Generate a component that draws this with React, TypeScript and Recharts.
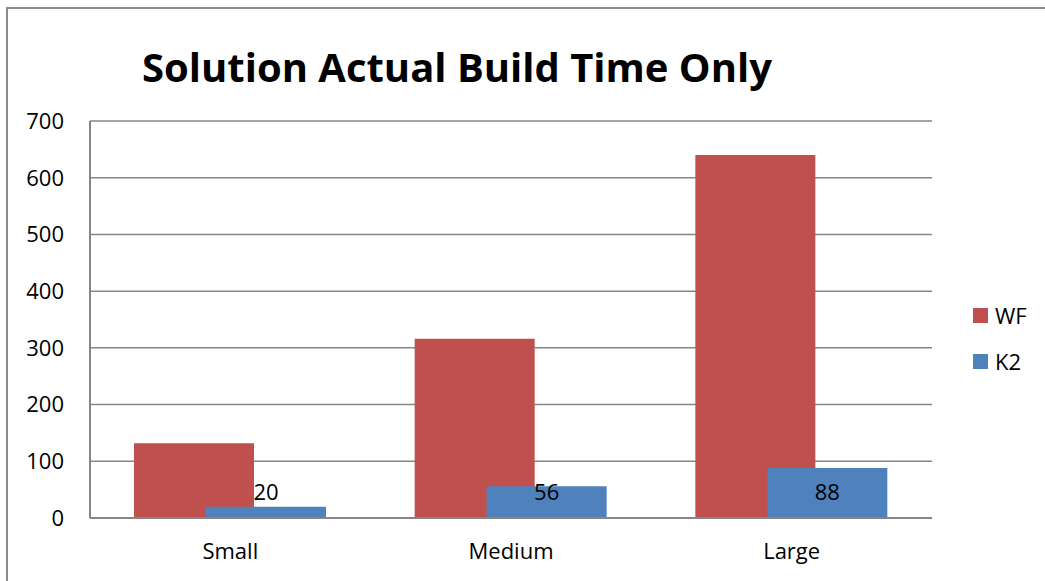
import { BarChart, Bar, XAxis, YAxis, CartesianGrid, Legend, LabelList } from "recharts";

const categories = ["Small", "Medium", "Large"];
const wfValues = [132, 316, 640];
const k2Values = [20, 56, 88];
const yTicks = [0, 100, 200, 300, 400, 500, 600, 700];

const data = categories.map((name, i) => ({ name, WF: wfValues[i], K2: k2Values[i] }));

const FONT = "'Open Sans', sans-serif";
const WF_COLOR = "#C0504D";
const K2_COLOR = "#4F81BD";
const GRID = "#868686";

// labels sit at a fixed distance above the bar base, like the original
const BaseLabel = (props: any) => {
  const { x, y, width, height, value } = props;
  const base = y + height;
  return (
    <text
      x={x + width / 2}
      y={base - 27}
      textAnchor="middle"
      dominantBaseline="central"
      fontSize={22}
      fontFamily={FONT}
      fill="#000"
    >
      {value}
    </text>
  );
};

const renderLegend = () => (
  <div style={{ fontFamily: FONT, fontSize: 22, color: "#000" }}>
    {[
      { label: "WF", color: WF_COLOR },
      { label: "K2", color: K2_COLOR },
    ].map((item, i) => (
      <div
        key={item.label}
        style={{ display: "flex", alignItems: "center", height: 30, marginBottom: i === 0 ? 16 : 0 }}
      >
        <span style={{ width: 15, height: 15, background: item.color, marginRight: 7 }} />
        <span>{item.label}</span>
      </div>
    ))}
  </div>
);

export default function App() {
  return (
    <div
      style={{
        position: "fixed",
        left: 0,
        top: 0,
        width: 1045,
        height: 581,
        overflow: "hidden",
        background: "#fff",
      }}
    >
      <div
        style={{
          position: "absolute",
          left: 6,
          top: 7,
          width: 1080,
          height: 620,
          border: "2px solid #8c8c8c",
        }}
      />
      <div style={{ position: "absolute", left: 0, top: 0 }}>
        <BarChart
          width={1045}
          height={581}
          data={data}
          barSize={120}
          barGap={-48}
          margin={{ top: 121, right: 113, left: 30, bottom: 13 }}
        >
          <text
            x={457}
            y={66}
            textAnchor="middle"
            dominantBaseline="central"
            fontSize={40}
            fontWeight="bold"
            fontFamily={FONT}
            fill="#000"
          >
            Solution Actual Build Time Only
          </text>
          <CartesianGrid vertical={false} stroke={GRID} strokeWidth={1.5} />
          <XAxis
            dataKey="name"
            height={50}
            stroke={GRID}
            strokeWidth={2}
            tickLine={false}
            tickSize={0}
            tickMargin={25}
            tick={{ fill: "#000", fontSize: 22, fontFamily: FONT }}
          />
          <YAxis
            width={60}
            domain={[0, 700]}
            ticks={yTicks}
            interval={0}
            stroke={GRID}
            strokeWidth={2}
            tickLine={false}
            tickSize={0}
            tickMargin={26}
            tick={{ fill: "#000", fontSize: 22, fontFamily: FONT }}
          />
          <Legend
            layout="vertical"
            align="center"
            verticalAlign="middle"
            content={renderLegend}
            wrapperStyle={{ left: 973, top: 300, width: 70 }}
          />
          <Bar dataKey="WF" fill={WF_COLOR} isAnimationActive={false} />
          <Bar dataKey="K2" fill={K2_COLOR} isAnimationActive={false}>
            <LabelList dataKey="K2" content={BaseLabel} />
          </Bar>
        </BarChart>
      </div>
    </div>
  );
}
